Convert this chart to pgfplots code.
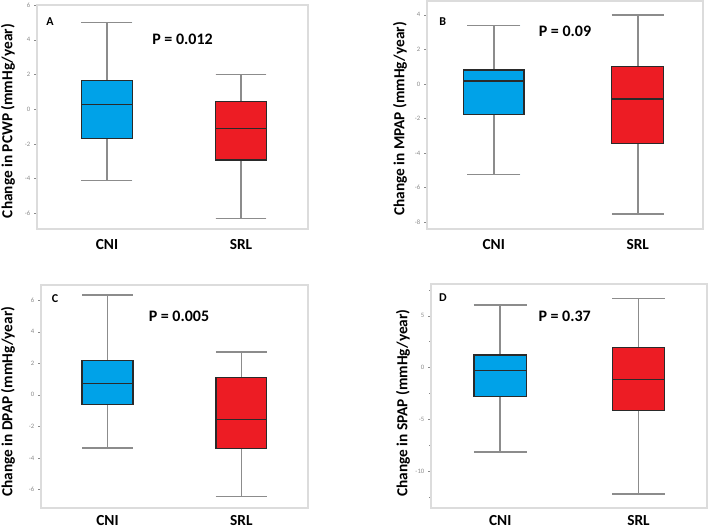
\documentclass[border=0pt]{standalone}
\usepackage{pgfplots}
\pgfplotsset{compat=1.18}
\usepgfplotslibrary{statistics}
\usepackage{fontspec}
\setmainfont{Carlito}
\definecolor{cniblue}{HTML}{00A2E8}
\definecolor{srlred}{HTML}{ED1C24}
\definecolor{boxedge}{HTML}{2A2A2A}
\definecolor{whiskgray}{HTML}{8C8C8C}
\definecolor{framegray}{HTML}{DCDCDC}
\definecolor{ticktext}{HTML}{8A8A8A}
\pgfplotsset{
  panel/.style={
    scale only axis,
    axis line style={draw=framegray, line width=1.1pt},
    xtick=\empty,
    ytick pos=left,
    ytick style={draw=ticktext, line width=0.3pt},
    tick align=outside,
    major tick length=2pt,
    minor tick length=1.2pt,
    yticklabel style={font=\fontsize{5}{5}\selectfont, text=ticktext, xshift=0.5pt},
    /pgf/number format/assume math mode=true,
    boxplot/every whisker/.style={draw=whiskgray, line width=1.2pt},
    boxplot/every median/.style={draw=boxedge, line width=0.9pt},
    boxplot/every box/.style={draw=boxedge, line width=0.9pt},
    boxplot/draw direction=y,
    clip=false,
  },
  cni/.style={fill=cniblue, draw=boxedge},
  srl/.style={fill=srlred, draw=boxedge},
}
\begin{document}
\begin{tikzpicture}
\useasboundingbox (0,0) rectangle (531.75pt,396.75pt);
% Panel A
\begin{axis}[panel, at={(27.75pt,225pt)}, anchor=south west,
  width=203.25pt, height=168pt,
  xmin=0.478, xmax=2.5, ymin=-6.9, ymax=6.0,
  ytick={-6,-4,-2,0,2,4,6}]
\addplot[cni, boxplot prepared={draw position=1, lower whisker=-4.1, lower quartile=-1.67, median=0.29, upper quartile=1.65, upper whisker=5.0, box extend=0.38, whisker extend=0.38}] coordinates {};
\addplot[srl, boxplot prepared={draw position=2, lower whisker=-6.3, lower quartile=-2.93, median=-1.1, upper quartile=0.46, upper whisker=2.0, box extend=0.38, whisker extend=0.38}] coordinates {};
\end{axis}
% Panel B
\begin{axis}[panel, at={(320.25pt,225pt)}, anchor=south west,
  width=207pt, height=171pt,
  xmin=0.537, xmax=2.453, ymin=-8.4, ymax=4.8,
  ytick={-8,-6,-4,-2,0,2,4}]
\addplot[cni, boxplot prepared={draw position=1, lower whisker=-5.25, lower quartile=-1.78, median=0.17, upper quartile=0.81, upper whisker=3.39, box extend=0.42, whisker extend=0.37}] coordinates {};
\addplot[srl, boxplot prepared={draw position=2, lower whisker=-7.54, lower quartile=-3.45, median=-0.87, upper quartile=1.0, upper whisker=4.0, box extend=0.36, whisker extend=0.36}] coordinates {};
\end{axis}
% Panel C
\begin{axis}[panel, at={(30.75pt,15.75pt)}, anchor=south west,
  width=200.25pt, height=167.25pt,
  xmin=0.503, xmax=2.498, ymin=-7.17, ymax=6.96,
  ytick={-6,-4,-2,0,2,4,6}]
\addplot[cni, boxplot prepared={draw position=1, lower whisker=-3.37, lower quartile=-0.63, median=0.74, upper quartile=2.2, upper whisker=6.33, box extend=0.38, whisker extend=0.38}] coordinates {};
\addplot[srl, boxplot prepared={draw position=2, lower whisker=-6.43, lower quartile=-3.42, median=-1.54, upper quartile=1.12, upper whisker=2.7, box extend=0.38, whisker extend=0.38}] coordinates {};
\end{axis}
% Panel D
\begin{axis}[panel, at={(323.25pt,15.75pt)}, anchor=south west,
  width=207pt, height=168pt,
  xmin=0.499, xmax=2.496, ymin=-13.55, ymax=8.06,
  ytick={-10,-5,0,5}, minor ytick={-12.5,-7.5,-2.5,2.5,7.5}]
\addplot[cni, boxplot prepared={draw position=1, lower whisker=-8.15, lower quartile=-2.79, median=-0.29, upper quartile=1.22, upper whisker=6.04, box extend=0.38, whisker extend=0.38}] coordinates {};
\addplot[srl, boxplot prepared={draw position=2, lower whisker=-12.17, lower quartile=-4.14, median=-1.12, upper quartile=1.96, upper whisker=6.65, box extend=0.38, whisker extend=0.38}] coordinates {};
\end{axis}
% Text (pixel coords: x*0.75pt, (529-y)*0.75pt)
\tikzset{lab/.style={font=\fontsize{11.5}{12}\selectfont\bfseries, inner sep=0pt},
         ylab/.style={font=\fontsize{11.5}{12}\selectfont\bfseries, inner sep=0pt, rotate=90},
         pan/.style={font=\fontsize{9}{9}\selectfont\bfseries, inner sep=0pt},
         pv/.style={font=\fontsize{12}{12}\selectfont\bfseries, inner sep=0pt}}
% y labels
\node[ylab] at (6pt,306pt) {Change in PCWP (mmHg/year)};
\node[ylab] at (300pt,307.5pt) {Change in MPAP (mmHg/year)};
\node[ylab] at (6pt,95.5pt) {Change in DPAP (mmHg/year)};
\node[ylab] at (302.25pt,94.5pt) {Change in SPAP (mmHg/year)};
% x category labels
\node[lab] at (80.25pt,213pt) {CNI};
\node[lab] at (180.75pt,213pt) {SRL};
\node[lab] at (370.3pt,213pt) {CNI};
\node[lab] at (478.3pt,213pt) {SRL};
\node[lab] at (80.6pt,6pt) {CNI};
\node[lab] at (181pt,6pt) {SRL};
\node[lab] at (375.2pt,6pt) {CNI};
\node[lab] at (478.9pt,6pt) {SRL};
% panel letters
\node[pan] at (37.5pt,380.25pt) {A};
\node[pan] at (332pt,380.25pt) {B};
\node[pan] at (41.25pt,173pt) {C};
\node[pan] at (332.25pt,173.5pt) {D};
% p values
\node[pv] at (136.9pt,367.5pt) {P = 0.012};
\node[pv] at (423.75pt,373.5pt) {P = 0.09};
\node[pv] at (134.25pt,159.75pt) {P = 0.005};
\node[pv] at (423.5pt,159.75pt) {P = 0.37};
\end{tikzpicture}
\end{document}
